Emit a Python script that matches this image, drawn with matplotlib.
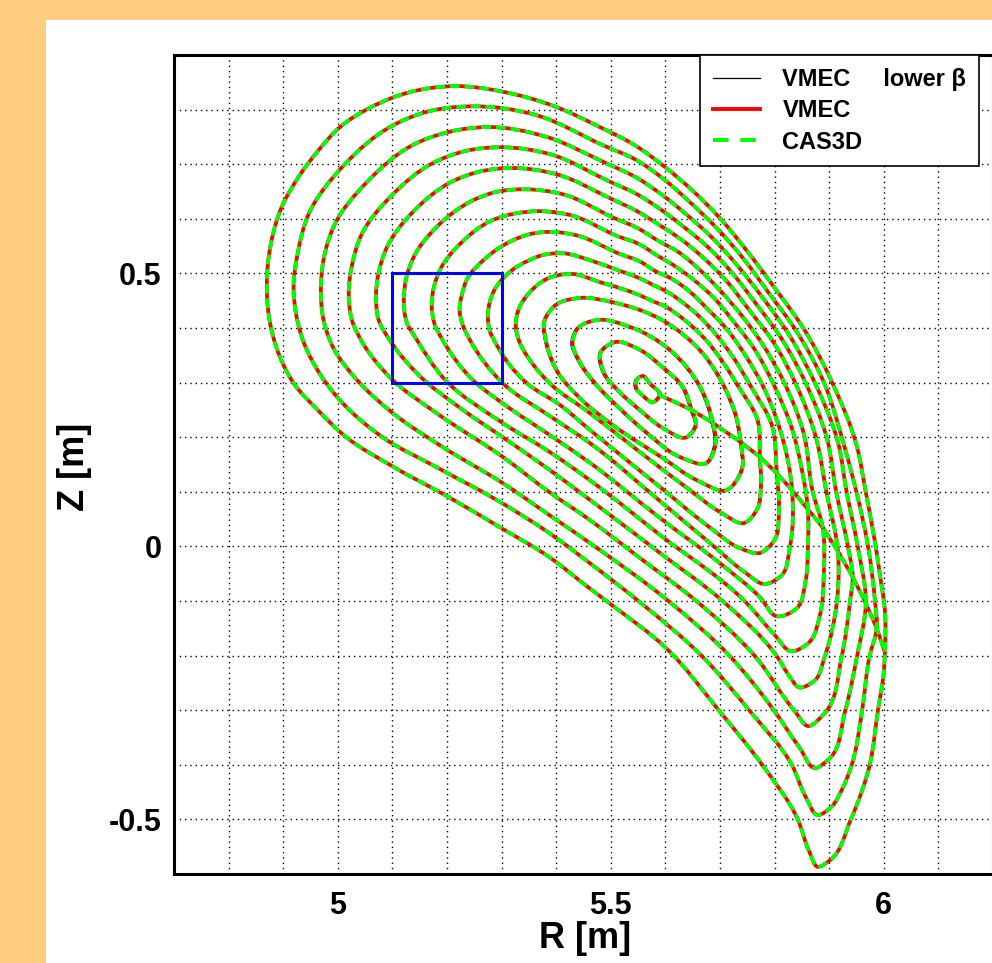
import numpy as np
import matplotlib
matplotlib.use("Agg")
import matplotlib.pyplot as plt
from matplotlib.path import Path
from matplotlib.patches import PathPatch, Rectangle
from matplotlib.lines import Line2D

plt.rcParams['font.family'] = ['Liberation Sans', 'DejaVu Sans']
plt.rcParams['font.weight'] = 'bold'

# flux surfaces, outermost (s01) to innermost (s14)
# each list starts at the theta=0 point, where the surfaces are joined
R_s01 = [6.002, 6.002, 5.993, 5.985, 5.967, 5.951, 5.905, 5.855, 5.799, 5.751, 5.700, 5.645, 5.599, 5.542,
         5.480, 5.397, 5.306, 5.214, 5.132, 5.062, 5.004, 4.965, 4.927, 4.897, 4.877, 4.870, 4.875, 4.894,
         4.919, 4.963, 5.013, 5.103, 5.200, 5.297, 5.388, 5.460, 5.500, 5.601, 5.700, 5.778, 5.842, 5.864,
         5.879, 5.901, 5.940, 5.974, 5.989, 6.000]
Z_s01 = [-0.194, -0.117, -0.053, 0.001, 0.099, 0.182, 0.301, 0.396, 0.475, 0.539, 0.601, 0.656, 0.695, 0.736,
         0.768, 0.806, 0.832, 0.843, 0.832, 0.805, 0.768, 0.726, 0.675, 0.621, 0.552, 0.482, 0.414, 0.347,
         0.299, 0.250, 0.202, 0.145, 0.092, 0.035, -0.020, -0.076, -0.106, -0.186, -0.303, -0.401, -0.499, -0.560,
         -0.587, -0.575, -0.499, -0.401, -0.302, -0.230]

R_s02 = [5.987, 5.984, 5.971, 5.950, 5.927, 5.890, 5.842, 5.788, 5.742, 5.692, 5.641, 5.599, 5.546, 5.485,
         5.363, 5.245, 5.167, 5.099, 5.011, 4.945, 4.927, 4.919, 4.923, 4.936, 4.971, 5.016, 5.082, 5.181,
         5.291, 5.388, 5.462, 5.553, 5.667, 5.755, 5.832, 5.857, 5.879, 5.905, 5.923, 5.941, 5.960, 5.974]
Z_s02 = [-0.150, -0.102, 0.001, 0.099, 0.186, 0.301, 0.391, 0.466, 0.528, 0.585, 0.634, 0.671, 0.708, 0.735,
         0.790, 0.806, 0.797, 0.770, 0.698, 0.605, 0.539, 0.477, 0.429, 0.378, 0.310, 0.255, 0.200, 0.145,
         0.085, 0.024, -0.031, -0.102, -0.201, -0.302, -0.401, -0.459, -0.492, -0.476, -0.446, -0.401, -0.302, -0.201]

R_s03 = [5.967, 5.952, 5.932, 5.916, 5.874, 5.828, 5.777, 5.733, 5.685, 5.636, 5.595, 5.546, 5.491, 5.379,
         5.277, 5.203, 5.137, 5.055, 4.993, 4.974, 4.969, 4.974, 4.991, 5.035, 5.101, 5.192, 5.302, 5.388,
         5.462, 5.608, 5.718, 5.800, 5.846, 5.874, 5.901, 5.929, 5.951]
Z_s03 = [-0.104, 0.001, 0.099, 0.191, 0.299, 0.385, 0.457, 0.513, 0.566, 0.610, 0.643, 0.676, 0.702, 0.751,
         0.768, 0.759, 0.735, 0.669, 0.587, 0.526, 0.469, 0.414, 0.365, 0.305, 0.244, 0.182, 0.116, 0.057,
         0.006, -0.102, -0.201, -0.302, -0.369, -0.406, -0.388, -0.302, -0.201]

R_s04 = [5.943, 5.934, 5.913, 5.896, 5.857, 5.813, 5.764, 5.723, 5.678, 5.630, 5.593, 5.548, 5.496, 5.390,
         5.300, 5.233, 5.174, 5.099, 5.042, 5.026, 5.020, 5.026, 5.046, 5.095, 5.181, 5.302, 5.388, 5.462,
         5.553, 5.659, 5.764, 5.837, 5.861, 5.892, 5.923, 5.938]
Z_s04 = [-0.056, 0.001, 0.099, 0.197, 0.299, 0.380, 0.447, 0.500, 0.548, 0.588, 0.616, 0.645, 0.669, 0.718,
         0.731, 0.724, 0.702, 0.643, 0.568, 0.515, 0.464, 0.414, 0.372, 0.310, 0.244, 0.164, 0.099, 0.048,
         -0.021, -0.102, -0.201, -0.302, -0.329, -0.305, -0.201, -0.102]

R_s05 = [5.916, 5.895, 5.875, 5.839, 5.799, 5.751, 5.712, 5.668, 5.625, 5.590, 5.548, 5.502, 5.399, 5.319,
         5.258, 5.207, 5.139, 5.090, 5.075, 5.070, 5.075, 5.095, 5.145, 5.229, 5.302, 5.388, 5.462, 5.590,
         5.707, 5.804, 5.828, 5.844, 5.874, 5.892, 5.914]
Z_s05 = [-0.009, 0.099, 0.202, 0.297, 0.372, 0.436, 0.486, 0.530, 0.565, 0.588, 0.614, 0.636, 0.682, 0.693,
         0.686, 0.667, 0.614, 0.548, 0.502, 0.457, 0.414, 0.378, 0.317, 0.250, 0.200, 0.140, 0.085, -0.012,
         -0.102, -0.201, -0.239, -0.258, -0.245, -0.201, -0.102]

R_s06 = [5.888, 5.870, 5.853, 5.819, 5.780, 5.738, 5.700, 5.659, 5.621, 5.588, 5.549, 5.507, 5.412, 5.342,
         5.289, 5.244, 5.183, 5.139, 5.125, 5.121, 5.126, 5.145, 5.192, 5.302, 5.388, 5.462, 5.590, 5.747,
         5.800, 5.830, 5.864, 5.883, 5.890]
Z_s06 = [0.035, 0.099, 0.208, 0.297, 0.367, 0.425, 0.469, 0.510, 0.541, 0.559, 0.583, 0.601, 0.645, 0.654,
         0.649, 0.632, 0.587, 0.530, 0.490, 0.451, 0.411, 0.378, 0.310, 0.226, 0.173, 0.121, 0.021, -0.102,
         -0.162, -0.192, -0.175, -0.126, -0.053]

R_s07 = [5.861, 5.850, 5.832, 5.799, 5.764, 5.723, 5.689, 5.652, 5.615, 5.586, 5.551, 5.513, 5.425, 5.368,
         5.321, 5.280, 5.227, 5.189, 5.176, 5.172, 5.178, 5.192, 5.247, 5.302, 5.388, 5.462, 5.590, 5.700,
         5.773, 5.804, 5.841, 5.857, 5.861]
Z_s07 = [0.068, 0.140, 0.215, 0.295, 0.360, 0.414, 0.455, 0.488, 0.515, 0.532, 0.554, 0.568, 0.607, 0.614,
         0.609, 0.596, 0.557, 0.510, 0.475, 0.442, 0.405, 0.378, 0.305, 0.262, 0.204, 0.153, 0.052, -0.031,
         -0.093, -0.128, -0.113, -0.062, -0.001]

R_s08 = [5.832, 5.808, 5.778, 5.745, 5.709, 5.676, 5.643, 5.610, 5.582, 5.551, 5.518, 5.436, 5.392, 5.352,
         5.317, 5.271, 5.236, 5.227, 5.223, 5.229, 5.242, 5.302, 5.388, 5.462, 5.590, 5.690, 5.745, 5.782,
         5.813, 5.828]
Z_s08 = [0.103, 0.220, 0.295, 0.352, 0.402, 0.436, 0.468, 0.491, 0.504, 0.523, 0.535, 0.570, 0.576, 0.572,
         0.559, 0.528, 0.488, 0.460, 0.433, 0.405, 0.378, 0.299, 0.239, 0.189, 0.083, -0.001, -0.047, -0.069,
         -0.053, -0.001]

R_s09 = [5.804, 5.795, 5.756, 5.725, 5.692, 5.663, 5.634, 5.604, 5.581, 5.553, 5.524, 5.471, 5.410, 5.377,
         5.350, 5.313, 5.286, 5.275, 5.278, 5.291, 5.315, 5.346, 5.407, 5.462, 5.590, 5.681, 5.736, 5.773,
         5.800, 5.808]
Z_s09 = [0.134, 0.222, 0.294, 0.345, 0.389, 0.420, 0.445, 0.466, 0.477, 0.491, 0.502, 0.521, 0.537, 0.534,
         0.524, 0.501, 0.468, 0.424, 0.396, 0.369, 0.332, 0.299, 0.259, 0.213, 0.109, 0.035, -0.003, -0.012,
         0.012, 0.066]

R_s10 = [5.773, 5.769, 5.733, 5.705, 5.676, 5.650, 5.623, 5.599, 5.577, 5.553, 5.529, 5.480, 5.429, 5.383,
         5.352, 5.332, 5.326, 5.333, 5.352, 5.388, 5.462, 5.553, 5.645, 5.700, 5.745, 5.769, 5.775]
Z_s10 = [0.164, 0.231, 0.294, 0.338, 0.376, 0.402, 0.424, 0.440, 0.449, 0.460, 0.469, 0.484, 0.499, 0.490,
         0.466, 0.436, 0.405, 0.374, 0.341, 0.299, 0.244, 0.173, 0.103, 0.063, 0.043, 0.070, 0.112]

R_s11 = [5.738, 5.729, 5.711, 5.668, 5.595, 5.504, 5.443, 5.399, 5.379, 5.383, 5.403, 5.443, 5.504, 5.595,
         5.658, 5.712, 5.740]
Z_s11 = [0.191, 0.240, 0.286, 0.354, 0.414, 0.447, 0.455, 0.442, 0.414, 0.369, 0.319, 0.272, 0.222, 0.162,
         0.121, 0.103, 0.140]

R_s12 = [5.687, 5.667, 5.608, 5.535, 5.471, 5.440, 5.430, 5.443, 5.471, 5.516, 5.566, 5.626, 5.676, 5.692]
Z_s12 = [0.226, 0.286, 0.360, 0.402, 0.414, 0.400, 0.374, 0.338, 0.299, 0.253, 0.208, 0.164, 0.153, 0.189]

R_s13 = [5.648, 5.632, 5.595, 5.553, 5.507, 5.482, 5.487, 5.516, 5.553, 5.595, 5.639, 5.656]
Z_s13 = [0.250, 0.292, 0.328, 0.360, 0.374, 0.356, 0.319, 0.283, 0.250, 0.217, 0.200, 0.222]

R_s14 = [5.590, 5.571, 5.559, 5.548, 5.546, 5.560, 5.577]
Z_s14 = [0.277, 0.299, 0.312, 0.306, 0.292, 0.275, 0.264]

# lower beta run: inner surfaces sit a little further out (to smaller R)
lowbeta_dR = [0.0, 0.0, 0.0, 0.0, 0.0, 0.0, 0.0, -0.001, -0.0015, -0.002, -0.0025, -0.003, -0.003, -0.003]

# zoom box
box_R = [5.1, 5.3]
box_Z = [0.3, 0.5]

labels = ['VMEC     lower \u03b2', 'VMEC', 'CAS3D']

surfaces = [(R_s01, Z_s01), (R_s02, Z_s02), (R_s03, Z_s03), (R_s04, Z_s04), (R_s05, Z_s05),
            (R_s06, Z_s06), (R_s07, Z_s07), (R_s08, Z_s08), (R_s09, Z_s09), (R_s10, Z_s10),
            (R_s11, Z_s11), (R_s12, Z_s12), (R_s13, Z_s13), (R_s14, Z_s14)]


def loop_segments(R, Z):
    # closed smooth curve through the read points (local Bessel tangents), as bezier pieces
    P = np.column_stack([R, Z])
    n = len(P)
    d = np.roll(P, -1, axis=0) - P
    h = np.hypot(d[:, 0], d[:, 1])
    s = d / h[:, None]
    hm, sm = np.roll(h, 1), np.roll(s, 1, axis=0)
    m = (h[:, None] * sm + hm[:, None] * s) / (h + hm)[:, None]
    verts = []
    for i in range(n):
        j = (i + 1) % n
        verts += [P[i] + m[i] * h[i] / 3, P[j] - m[j] * h[i] / 3, P[j]]
    return P[0], verts


def surfaces_path(shift=None):
    verts, codes = [], []
    # all surfaces in one line, inner to outer, joined at theta=0
    for k in range(len(surfaces) - 1, -1, -1):
        R, Z = surfaces[k]
        dr = 0.0 if shift is None else shift[k]
        start, segs = loop_segments(np.array(R) + dr, np.array(Z))
        codes.append(Path.MOVETO if not verts else Path.LINETO)
        verts.append(start)
        verts += segs
        codes += [Path.CURVE4] * len(segs)
    return Path(verts, codes)


fig = plt.figure(figsize=(9.92, 9.63), dpi=100, facecolor='#FFCC80')
fig.add_artist(Rectangle((46 / 992, 0), 1, (963 - 20) / 963, transform=fig.transFigure,
                         facecolor='white', edgecolor='none', zorder=-1))
ax = fig.add_axes([174 / 992, (963 - 874) / 963, 819 / 992, 819 / 963])

ax.add_patch(PathPatch(surfaces_path(lowbeta_dR), fill=False, edgecolor='black', lw=0.9, zorder=2))
ax.add_patch(PathPatch(surfaces_path(), fill=False, edgecolor='red', lw=2.7, zorder=3))
ax.add_patch(PathPatch(surfaces_path(), fill=False, edgecolor=(0, 1, 0), lw=2.7,
                       linestyle=(0, (2.6, 1.3)), zorder=4))

ax.add_patch(Rectangle((box_R[0], box_Z[0]), box_R[1] - box_R[0], box_Z[1] - box_Z[0],
                       fill=False, edgecolor='blue', lw=2.2, zorder=5))

ax.set_xlim(4.7, 6.2)
ax.set_ylim(-0.6, 0.9)

ax.set_xticks([5, 5.5, 6])
ax.set_xticklabels(['5', '5.5', '6'])
ax.set_xticks(np.round(np.arange(4.8, 6.15, 0.1), 2), minor=True)
ax.set_yticks([-0.5, 0, 0.5])
ax.set_yticklabels(['-0.5', '0', '0.5'])
ax.set_yticks(np.round(np.arange(-0.5, 0.85, 0.1), 2), minor=True)
ax.tick_params(which='both', length=0)
ax.tick_params(axis='x', labelsize=22, pad=12)
ax.tick_params(axis='y', labelsize=22, pad=9)
ax.grid(which='both', color='black', lw=1.0, linestyle=(0, (1, 2.8)))
ax.set_axisbelow(True)

for s in ax.spines.values():
    s.set_linewidth(2.2)
    s.set_color('black')

handles = [Line2D([], [], color='black', lw=0.9),
           Line2D([], [], color='red', lw=2.8),
           Line2D([], [], color=(0, 1, 0), lw=2.8, dashes=(4.0, 3.0))]
leg = ax.legend(handles, labels, loc='upper left', bbox_to_anchor=(0.642, 1.0), borderaxespad=0,
                prop={'size': 17, 'weight': 'bold'}, handlelength=2.0, handletextpad=0.95,
                borderpad=0.55, labelspacing=0.35, fancybox=False, framealpha=1, edgecolor='black')
leg.get_frame().set_linewidth(1.2)
leg.set_zorder(6)

fig.text(75 / 992, 1 - 467 / 963, 'Z [m]', rotation=90, fontsize=26, fontweight='bold',
         ha='center', va='center')
fig.text(585 / 992, 1 - 938 / 963, 'R [m]', fontsize=26, fontweight='bold', ha='center', va='center')

fig.savefig('out.png', dpi=100, facecolor=fig.get_facecolor())
